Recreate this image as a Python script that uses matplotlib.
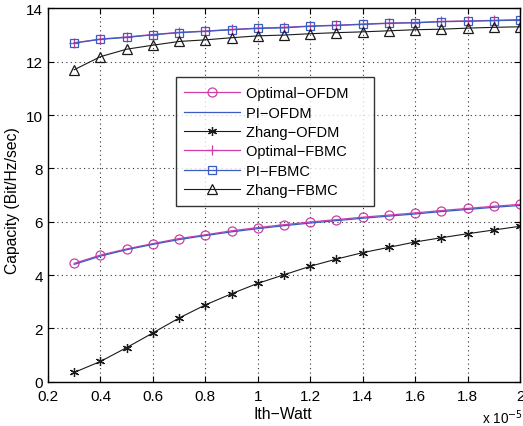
import matplotlib
matplotlib.use("Agg")
import matplotlib.pyplot as plt

plt.rcParams['font.family'] = ['Liberation Sans', 'DejaVu Sans']

ith = [0.3, 0.4, 0.5, 0.6, 0.7, 0.8, 0.9, 1.0, 1.1, 1.2, 1.3, 1.4, 1.5, 1.6, 1.7, 1.8, 1.9, 2.0]  # x 1e-5 W

optimal_ofdm = [4.44, 4.75, 4.98, 5.18, 5.37, 5.51, 5.66, 5.78, 5.89, 5.99, 6.08, 6.17, 6.25, 6.33, 6.42, 6.50, 6.58, 6.65]
pi_ofdm = [4.40, 4.71, 4.95, 5.15, 5.33, 5.48, 5.62, 5.74, 5.85, 5.95, 6.04, 6.13, 6.21, 6.29, 6.38, 6.46, 6.54, 6.61]
zhang_ofdm = [0.35, 0.76, 1.28, 1.83, 2.39, 2.88, 3.30, 3.69, 4.01, 4.33, 4.60, 4.84, 5.04, 5.24, 5.40, 5.55, 5.69, 5.83]
optimal_fbmc = [12.71, 12.85, 12.93, 13.02, 13.10, 13.15, 13.21, 13.26, 13.29, 13.34, 13.37, 13.41, 13.45, 13.47, 13.51, 13.53, 13.55, 13.58]
pi_fbmc = [12.70, 12.84, 12.91, 13.01, 13.09, 13.14, 13.20, 13.25, 13.27, 13.33, 13.36, 13.40, 13.44, 13.46, 13.50, 13.52, 13.54, 13.56]
zhang_fbmc = [11.70, 12.19, 12.47, 12.62, 12.76, 12.82, 12.90, 12.97, 13.00, 13.05, 13.09, 13.12, 13.16, 13.20, 13.22, 13.26, 13.29, 13.31]

xticks = [0.2, 0.4, 0.6, 0.8, 1.0, 1.2, 1.4, 1.6, 1.8, 2.0]
xticklabels = ["0.2", "0.4", "0.6", "0.8", "1", "1.2", "1.4", "1.6", "1.8", "2"]
yticks = [0, 2, 4, 6, 8, 10, 12, 14]

pink = "#cc3fa6"
blue = "#3c5cc0"
dark = "#1a1a1a"

fig = plt.figure(figsize=(5.23, 4.27), dpi=100)
ax = fig.add_axes([0.0918, 0.1037, 0.9025, 0.8743])

pad = "    "
ax.plot(ith, optimal_ofdm, color=pink, marker='o', markersize=6.5, markerfacecolor='none',
        markeredgecolor=pink, markeredgewidth=0.9, lw=0.9, label='Optimal\u2212OFDM' + pad)
ax.plot(ith, pi_ofdm, color=blue, lw=0.9, label='PI\u2212OFDM' + pad)
ax.plot(ith, zhang_ofdm, color=dark, marker=(6, 2, 0), markersize=6.5, lw=0.8,
        markeredgewidth=0.9, label='Zhang\u2212OFDM' + pad)
ax.plot(ith, optimal_fbmc, color=pink, marker='+', markersize=7, lw=0.9,
        markeredgewidth=0.9, label='Optimal\u2212FBMC' + pad)
ax.plot(ith, pi_fbmc, color=blue, marker='s', markersize=5.5, markerfacecolor='none',
        markeredgecolor=blue, markeredgewidth=0.9, lw=0.9, label='PI\u2212FBMC' + pad)
ax.plot(ith, zhang_fbmc, color=dark, marker='^', markersize=7, markerfacecolor='none',
        markeredgecolor=dark, markeredgewidth=0.9, lw=0.8, label='Zhang\u2212FBMC' + pad)

ax.set_xlim(0.2, 2.0)
ax.set_ylim(0, 14)
ax.set_xticks(xticks)
ax.set_xticklabels(xticklabels)
ax.set_yticks(yticks)
ax.tick_params(direction='in', top=True, right=True, labelsize=11, length=4)
ax.tick_params(axis='x', pad=5)
ax.tick_params(axis='y', pad=3.5)
ax.grid(True, linestyle=(0, (1, 3)), color='#333333', linewidth=0.8)
for s in ax.spines.values():
    s.set_linewidth(1.0)

ax.set_xlabel('Ith\u2212Watt', fontsize=11.3)
ax.xaxis.set_label_coords(0.497, -0.066)
ax.xaxis.label.set_va('top')
ax.set_ylabel('Capacity (Bit/Hz/sec)', fontsize=11.3)
ax.yaxis.set_label_coords(-0.075, 0.487)
ax.yaxis.label.set_va('center')
fig.text(0.921, 0.008, 'x 10$^{-5}$', fontsize=9.8, va='baseline')

leg = ax.legend(loc='upper left', bbox_to_anchor=(0.2706, 0.815), fontsize=10.5,
                frameon=True, fancybox=False, edgecolor='black', handlelength=3.8,
                borderpad=0.6, labelspacing=0.37, handletextpad=0.41, borderaxespad=0)
leg.get_frame().set_linewidth(1.0)

fig.savefig('out.png', dpi=100)
